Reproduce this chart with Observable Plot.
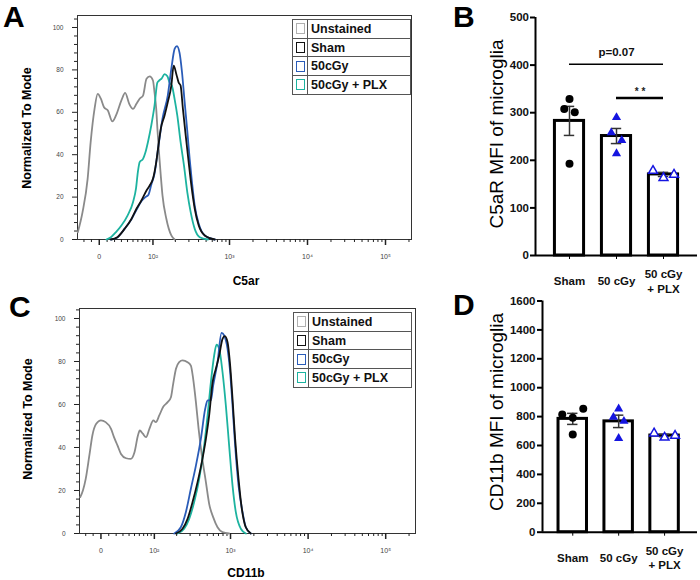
<!DOCTYPE html>
<html><head><meta charset="utf-8">
<script src="https://cdn.jsdelivr.net/npm/d3@7"></script>
<script src="https://cdn.jsdelivr.net/npm/@observablehq/plot@0.6"></script>
<style>
body{margin:0;background:#fff;}
#fig{position:relative;width:700px;height:580px;background:#fff;font-family:"Liberation Sans",Arial,sans-serif;overflow:hidden;color:#000}
.letter{position:absolute;font-weight:bold;font-size:30px;line-height:normal;color:#000}
.rot{position:absolute;transform:translate(-50%,-50%) rotate(-90deg);white-space:nowrap;line-height:1}
.xt{position:absolute;transform:translate(-50%,-50%);white-space:nowrap;font-weight:bold;font-size:12px;line-height:1}
.leg{position:absolute;border-collapse:collapse;width:119px;background:#fff}
.leg td{border:1px solid #555;height:17.7px;padding:0}
.leg .sw{width:14px}
.leg .box{width:9px;height:11px;border:1.5px solid;margin:0 auto;box-sizing:border-box}
.leg .nm{font:bold 12.5px "Liberation Sans",Arial,sans-serif;padding-left:3px;color:#111}
</style>
</head><body>
<div id="fig"></div>
<script>
// ---------- data ----------
const histSeries = ["Unstained", "Sham", "50cGy", "50cGy + PLX"];
const xTickValues = [0, 100, 1000, 10000, 100000];
const xTickLabels = ["0", "10\u00b2", "10\u00b3", "10\u2074", "10\u2075"];
const yTickValues = [0, 20, 40, 60, 80, 100];

// C5ar histograms: [intensity, % of mode]
const c5arUnstained = [[-29,3.4],[-22,12.9],[-15,28.6],[-11,45.9],[-6,61.6],[-2,68.7],[2,66.4],[6,62.4],[11,60.8],[17,55.7],[22,58.5],[30,65.6],[36,69.2],[43,64],[50,61.6],[57,64],[64,66.4],[72,67.9],[81,75.8],[90,76.9],[100,75],[105,69.5],[111,61.6],[116,50.6],[122,39.6],[128,30.2],[135,20.8],[152,9.8],[177,1.9],[196,0]];
const c5arSham = [[15,0],[24,1.1],[35,5],[47,9.7],[57,14.5],[68,18.4],[81,23.1],[90,25.5],[100,28.6],[111,36.5],[119,44.3],[128,52.2],[144,58.5],[159,64.8],[177,72.6],[190,82],[206,78],[221,74],[234,72.6],[251,61.6],[273,49],[298,36.5],[323,25.5],[357,14.5],[402,6.6],[481,1.9],[647,0]];
const c5ar50 = [[15,0],[24,1],[35,5],[47,9.5],[57,14],[68,18],[78,20],[86,21],[95,26],[105,31],[119,44],[135,57],[159,68],[177,80.5],[196,90],[210,91.2],[227,88],[244,79],[264,65],[287,50.6],[307,38],[329,27],[357,16],[402,7.4],[481,1.9],[647,0]];
const c5arPLX = [[9,0],[15,1.1],[22,3.5],[30,6.6],[40,11.3],[50,17.6],[56,24],[60,31.8],[64,36.5],[72,38],[78,41],[85,46],[95,54],[105,63],[115,74],[122,75],[132,76],[144,78],[157,77],[168,74],[180,72.6],[196,66],[212,58.5],[234,46],[259,35],[287,22],[316,13],[357,5],[414,1.1],[530,0]];

// CD11b histograms
const cd11bUnstained = [[-28,16.9],[-24,20],[-20,25.4],[-15,36.3],[-11,45.6],[-6,51],[0,52.6],[6,51.8],[13,48.7],[17,44.8],[22,40.9],[27,37],[35,35],[43,34.7],[50,37.8],[57,45.6],[61,47.9],[68,46.4],[76,44.8],[85,48.7],[97,52.6],[105,51.8],[117,54.9],[132,58.8],[152,61.1],[168,63.4],[180,69.6],[196,76.6],[216,79.7],[239,80.5],[278,79.7],[307,78.1],[329,71.9],[357,61.1],[387,48.7],[426,36.3],[481,23.9],[530,13.8],[597,7.6],[680,2.9],[789,0.6],[960,0]];
const cd11bSham = [[196,0],[239,2.2],[278,6.8],[323,14.6],[375,23.9],[426,33.2],[481,44],[530,54.9],[587,70.4],[647,76.6],[714,82.8],[789,90.5],[845,91.8],[916,89],[981,79.7],[1062,62.6],[1147,44],[1269,25.4],[1399,11.5],[1575,2.9],[1827,0]];
const cd11b50 = [[186,0],[227,2.9],[264,9.9],[307,20.8],[357,31.6],[414,44],[471,58],[506,61.9],[558,61.9],[597,68.8],[680,79.7],[766,93.3],[828,92.1],[916,85.9],[981,76.6],[1062,59.5],[1147,40.9],[1269,22.3],[1429,9.9],[1575,2.9],[1827,0]];
const cd11bPLX = [[206,0],[251,2.2],[292,6.8],[339,14.6],[394,25.4],[457,40.9],[506,54.9],[558,70.4],[615,82.8],[661,87.8],[714,85.9],[789,75],[871,59.5],[960,40.9],[1062,22.3],[1171,9.9],[1358,2.2],[1575,0]];

// bar charts: MFI per animal
const groups = ["Sham", "50 cGy", "50 cGy\n+ PLX"];
const c5arMFI = [[329, 308, 301, 193], [290, 258, 242, 214], [178, 163, 170]];
const cd11bMFI = [[815, 792, 854, 676], [854, 796, 768, 650], [684, 655, 668]];
const c5arTicks = [0, 100, 200, 300, 400, 500];
const cd11bTicks = [0, 200, 400, 600, 800, 1000, 1200, 1400, 1600];
const c5arSig = [{from: 0, to: 2, y: 402, label: "p=0.07"}, {from: 1, to: 2, y: 331, label: "* *"}];

// ---------- styles ----------
const histColors = ["#8a8a8a", "#111111", "#2a5cb8", "#1db3a0"];
const legendColors = ["#b0b0b0", "#111111", "#2a5cb8", "#1db3a0"];
const drawOrder = [0, 3, 2, 1];
const FONT = "Liberation Sans, Arial, sans-serif";

const fig = document.getElementById("fig");
function place(node, left, top) {
  const d = document.createElement("div");
  d.style.cssText = `position:absolute;left:${left}px;top:${top}px`;
  d.appendChild(node);
  fig.appendChild(d);
}
function addText(cls, txt, x, y, style) {
  const d = document.createElement("div");
  d.className = cls; d.textContent = txt;
  d.style.left = x + "px"; d.style.top = y + "px";
  if (style) d.style.cssText += style;
  fig.appendChild(d);
}

// biexponential-like display transform (decades)
const C0 = 21.4;
const T = v => Math.log10(C0) + Math.asinh(v / (2 * C0)) / Math.LN10;

const xMinorRaw = [-20, -10, 10, 20, 30, 40, 50, 60, 70, 80, 90]
  .concat(d3.range(200, 1000, 100), d3.range(2000, 10000, 1000), d3.range(20000, 100000, 10000), [200000]);
const yMinor = d3.range(0, 105, 4).filter(v => v % 20 !== 0);
const labelByT = new Map(xTickValues.map((v, i) => [T(v).toFixed(6), xTickLabels[i]]));

function histPlot(cfg, curves) {
  const marks = [
    Plot.frame({stroke: "#333", strokeWidth: 1}),
    Plot.axisY(yMinor, {tickSize: 3, tickFormat: () => "", label: null, stroke: "#222"}),
    Plot.axisY(yTickValues, {tickSize: 5, tickPadding: 9, fontSize: 6.5, fill: "#444", stroke: "#222", label: null}),
    Plot.axisX(xMinorRaw.map(T), {tickSize: 3, tickFormat: () => "", label: null, stroke: "#222"}),
    Plot.axisX(xTickValues.map(T), {tickSize: 6, tickPadding: 9, fontSize: 7, fill: "#444", stroke: "#222", strokeWidth: 1.5,
      tickFormat: t => labelByT.get(t.toFixed(6)) ?? "", label: null})
  ];
  for (const k of drawOrder) {
    marks.push(Plot.line(curves[k], {x: d => T(d[0]), y: d => d[1], stroke: histColors[k], strokeWidth: 1.8, curve: "monotone-x"}));
  }
  return Plot.plot({
    width: cfg.width, height: cfg.height,
    marginTop: cfg.mt, marginBottom: cfg.mb, marginLeft: cfg.ml, marginRight: cfg.mr,
    x: {domain: cfg.xdom}, y: {domain: [0, cfg.ytop]},
    style: {fontFamily: FONT, background: "transparent", overflow: "visible"},
    marks
  });
}

function legend(x, y) {
  const t = document.createElement("table");
  t.className = "leg"; t.style.left = x + "px"; t.style.top = y + "px";
  histSeries.forEach((name, k) => {
    const tr = t.insertRow();
    const c1 = tr.insertCell(); c1.className = "sw";
    const box = document.createElement("div"); box.className = "box"; box.style.borderColor = legendColors[k];
    c1.appendChild(box);
    const c2 = tr.insertCell(); c2.className = "nm"; c2.textContent = name;
  });
  fig.appendChild(t);
}

function barPlot(cfg, vals, ticks, sig) {
  const plotH = cfg.height - cfg.mt - cfg.mb;
  const pxY = plotH / cfg.ymax;
  const pxX = (cfg.width - cfg.ml - cfg.mr) / (cfg.xdom[1] - cfg.xdom[0]);
  const stats = vals.map((v, i) => ({i, mean: d3.mean(v), sem: d3.deviation(v) / Math.sqrt(v.length)}));
  // beeswarm-like spreading of points with overlapping heights
  const pts = [];
  vals.forEach((v, i) => {
    const order = d3.range(v.length).sort((a, b) => v[a] - v[b]);
    const clusters = [];
    order.forEach((j, k) => {
      if (k > 0 && (v[j] - v[order[k - 1]]) * pxY < 8) clusters[clusters.length - 1].push(j);
      else clusters.push([j]);
    });
    clusters.forEach(cl => {
      cl.sort((a, b) => a - b);
      cl.forEach((j, m) => pts.push({g: i, v: v[j], x: i + (m - (cl.length - 1) / 2) * 10.5 / pxX}));
    });
  });
  const hb = 0.31, cap = 5.2 / pxX;
  const marks = [
    Plot.rectY(stats, {x1: d => d.i - hb, x2: d => d.i + hb, y1: 0, y2: "mean", fill: "white", stroke: "black", strokeWidth: 3}),
    Plot.ruleX(stats, {x: "i", y1: d => d.mean - d.sem, y2: d => d.mean + d.sem, stroke: "#333", strokeWidth: 1.5}),
    Plot.ruleY(stats, {x1: d => d.i - cap, x2: d => d.i + cap, y: d => d.mean + d.sem, stroke: "#333", strokeWidth: 1.5}),
    Plot.ruleY(stats, {x1: d => d.i - cap, x2: d => d.i + cap, y: d => d.mean - d.sem, stroke: "#333", strokeWidth: 1.5}),
    Plot.ruleY([0], {stroke: "black", strokeWidth: 2}),
    Plot.ruleX([cfg.xdom[0]], {stroke: "black", strokeWidth: 2}),
    Plot.axisY(ticks, {tickSize: 5, tickPadding: cfg.tp, strokeWidth: 2, fontSize: 11.5, fontWeight: "bold", fill: "#111",
      tickFormat: d3.format("d"), label: null}),
    Plot.axisX([0, 1, 2], {tickSize: 4, tickPadding: 21, lineAnchor: "middle", lineHeight: 1.3, fontSize: 11.5, fontWeight: "bold", fill: "#111",
      tickFormat: i => groups[i], label: null}),
    Plot.dot(pts.filter(d => d.g === 0), {x: "x", y: "v", r: 4, fill: "black", stroke: "none"}),
    Plot.dot(pts.filter(d => d.g === 1), {x: "x", y: "v", r: 3.4, symbol: "triangle", fill: "#1515e0", stroke: "none"}),
    Plot.dot(pts.filter(d => d.g === 2), {x: "x", y: "v", r: 3.3, symbol: "triangle", fill: "white", stroke: "#1515e0", strokeWidth: 1.5})
  ];
  if (sig) {
    marks.push(
      Plot.ruleY(sig.slice(0, 1), {x1: "from", x2: "to", y: "y", stroke: "black", strokeWidth: 1.5}),
      Plot.ruleY(sig.slice(1), {x1: "from", x2: "to", y: "y", stroke: "black", strokeWidth: 2.5}),
      Plot.text(sig.slice(0, 1), {x: d => (d.from + d.to) / 2, y: "y", text: "label", dy: -12, lineAnchor: "middle", fontSize: 11.5, fontWeight: "bold", fill: "#111"}),
      Plot.text(sig.slice(1), {x: d => (d.from + d.to) / 2, y: "y", text: "label", dy: -6, lineAnchor: "middle", fontSize: 10, fontWeight: "bold", fill: "#222"})
    );
  }
  return Plot.plot({
    width: cfg.width, height: cfg.height,
    marginTop: cfg.mt, marginBottom: cfg.mb, marginLeft: cfg.ml, marginRight: cfg.mr,
    x: {domain: cfg.xdom}, y: {domain: [0, cfg.ymax]},
    style: {fontFamily: FONT, background: "transparent", overflow: "visible"},
    marks
  });
}

// ---------- panels ----------
place(histPlot({width: 420, height: 290, mt: 15, mb: 51, ml: 77, mr: 9, xdom: [1.0513, 5.3333], ytop: 105.66},
  [c5arUnstained, c5arSham, c5ar50, c5arPLX]), 0, 0);
place(histPlot({width: 420, height: 290, mt: 18, mb: 47, ml: 79, mr: 5, xdom: [1.0541, 5.3840], ytop: 104.65},
  [cd11bUnstained, cd11bSham, cd11b50, cd11bPLX]), 0, 290);
place(barPlot({width: 260, height: 300, mt: 17, mb: 45, ml: 95, mr: 3, xdom: [-0.7234, 2.7234], ymax: 500, tp: 1.5},
  c5arMFI, c5arTicks, c5arSig), 440, 0);
place(barPlot({width: 260, height: 290, mt: 10.5, mb: 48.3, ml: 102, mr: 3, xdom: [-0.659, 2.717], ymax: 1600, tp: 2},
  cd11bMFI, cd11bTicks, null), 440, 290);

legend(292, 19);
legend(293, 312);

addText("rot", "Normalized To Mode", 27, 128, "font-weight:bold;font-size:12.5px");
addText("rot", "Normalized To Mode", 28, 419, "font-weight:bold;font-size:12.5px");
addText("xt", "C5ar", 246, 281);
addText("xt", "CD11b", 246, 573);
addText("rot", "C5aR MFI of microglia", 496, 134, "font-size:19px");
addText("rot", "CD11b MFI of microglia", 496, 412, "font-size:19px");

addText("letter", "A", 3, 0);
addText("letter", "B", 453, 0);
addText("letter", "C", 9, 290);
addText("letter", "D", 453, 288);
</script>
</body></html>
